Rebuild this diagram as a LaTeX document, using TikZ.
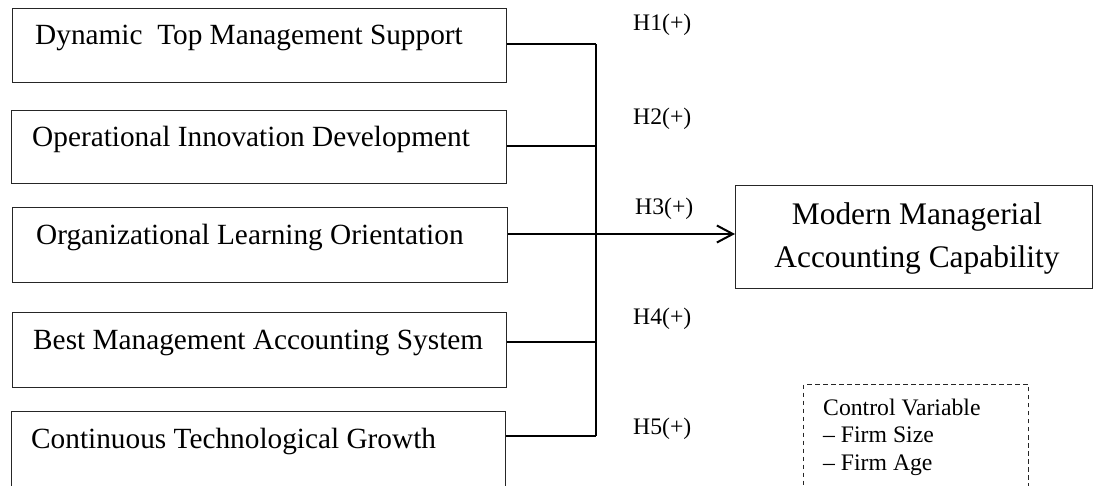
\documentclass[tikz,border=0pt]{standalone}
\usepackage{fontspec}
\setmainfont{Liberation Serif}
\usetikzlibrary{arrows.meta}
\begin{document}
\begin{tikzpicture}[x=1pt,y=-1pt,
  boxst/.style={draw=black!85, line width=1.2pt, inner sep=0pt, anchor=north west},
  btxt/.style={font=\fontsize{29.3}{35}\selectfont, inner sep=0pt, anchor=base west},
  hlab/.style={font=\fontsize{23.7}{28}\selectfont, inner sep=0pt, anchor=base west},
  conn/.style={line width=2pt, draw=black},
  dashbox/.style={draw=black!85, line width=1pt, dash pattern=on 4.5pt off 3.5pt, inner sep=0pt, anchor=north west},
]
\clip (0,0) rectangle (1093,486);
\useasboundingbox (0,0) rectangle (1093,486);

% left boxes
\node[boxst, minimum width=494pt, minimum height=74pt] (b1) at (12,8) {};
\node[boxst, minimum width=495pt, minimum height=73pt] (b2) at (11,110) {};
\node[boxst, minimum width=495pt, minimum height=75pt] (b3) at (12,207) {};
\node[boxst, minimum width=494pt, minimum height=75pt] (b4) at (12,312) {};
\node[boxst, minimum width=494pt, minimum height=110pt] (b5) at (11,411) {};

\node[btxt] (t1) at (35,45) {Dynamic\ \ Top Management Support};
\node[btxt] (t2) at (32,147) {Operational Innovation Development};
\node[btxt] (t3) at (36,245) {Organizational Learning Orientation};
\node[btxt] (t4) at (33,350) {Best Management Accounting System};
\node[btxt] (t5) at (31,448) {Continuous Technological Growth};

% junctions on the vertical bus
\coordinate (j1) at (596,44);
\coordinate (j2) at (596,146);
\coordinate (j3) at (596,234);
\coordinate (j4) at (596,342);
\coordinate (j5) at (596,436);

% target
\node[boxst, minimum width=357pt, minimum height=103pt] (tgt) at (735,185) {};
\node[font=\fontsize{31.4}{43}\selectfont, align=center, inner sep=0pt] (tgtxt) at (917,238.2)
  {Modern Managerial\\Accounting Capability};

% connectors
\draw[conn] (b1.east |- j1) -- (j1);
\draw[conn] (b2.east |- j2) -- (j2);
\draw[conn] (b3.east |- j3) -- (j3);
\draw[conn] (b4.east |- j4) -- (j4);
\draw[conn] (b5.east |- j5) -- (j5);
\draw[conn] (j1) -- (j5);
\draw[conn, -{Straight Barb[length=16pt,width=17pt]}] (j3) -- (tgt.west |- j3);

% hypothesis labels
\node[hlab] (h1) at (633,31) {H1(+)};
\node[hlab] (h2) at (633,125) {H2(+)};
\node[hlab] (h3) at (635,215) {H3(+)};
\node[hlab] (h4) at (633,325) {H4(+)};
\node[hlab] (h5) at (633,434) {H5(+)};

% control variable
\node[dashbox, minimum width=225pt, minimum height=150pt] (ctrl) at (803,384) {};
\node[font=\fontsize{23.7}{27.5}\selectfont, align=left, inner sep=0pt, anchor=north west] (ctxt) at (823,398.8)
  {Control Variable\\– Firm Size\\– Firm Age};
\end{tikzpicture}
\end{document}
